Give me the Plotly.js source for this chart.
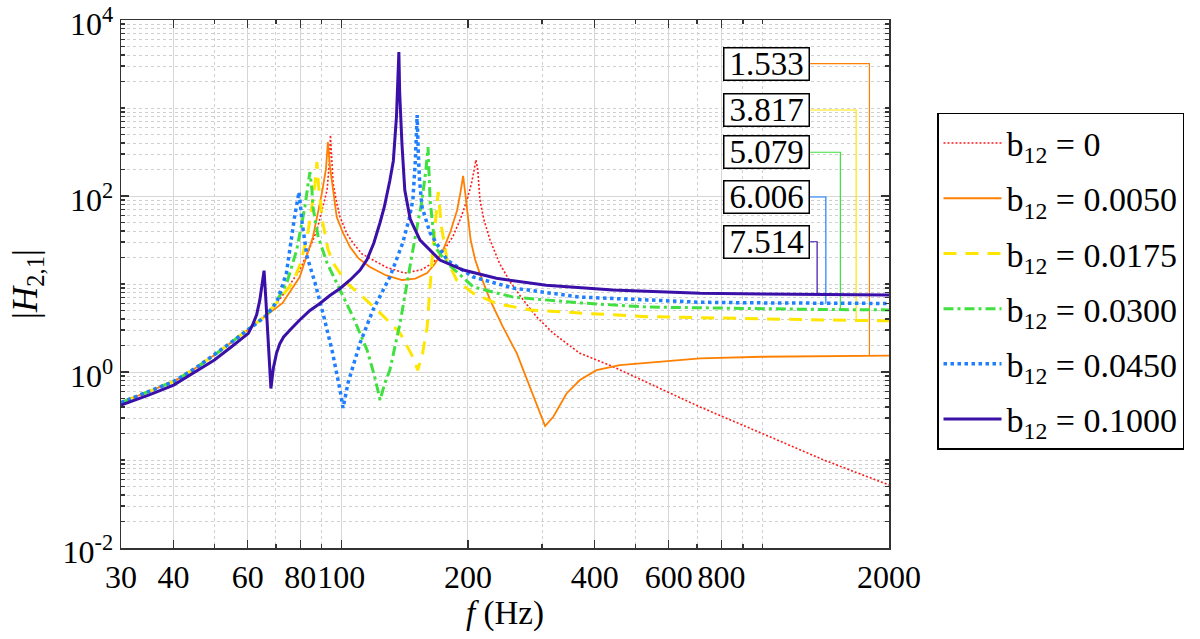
<!DOCTYPE html>
<html>
<head>
<meta charset="utf-8">
<script src="https://cdn.plot.ly/plotly-3.0.1.min.js"></script>
<style>
  html, body { margin: 0; padding: 0; background: #fff; }
  #plot { width: 1200px; height: 639px; }
</style>
</head>
<body>
<div id="plot"></div>
<script>
// values (frequency in Hz, |H21|)
var freqB0 = [30, 35, 40, 45, 50, 55, 60, 66, 72, 79.7, 84, 87.6, 90.5, 92.6, 93.8, 94.3, 95, 95.7, 97.5, 99.4, 103, 106.7, 112, 119, 128, 141.5, 155, 165, 175, 184, 192, 199, 204, 207, 209, 211, 213.6, 218, 225.7, 237.7, 251.8, 270.6, 291, 319, 369, 442, 533, 712, 1000, 1400, 2000];
var magB0 = [0.45, 0.6, 0.78, 1.1, 1.56, 2.2, 3.0, 4.4, 7.0, 14.4, 25, 41, 75, 117, 250, 493, 260, 140, 85, 57.7, 38, 29.2, 22, 18.7, 15.5, 13.3, 14.5, 17.3, 24, 34.2, 55, 90, 140, 200, 257, 200, 90, 55, 31.6, 17.2, 10.6, 6.6, 4.25, 2.75, 1.63, 1.15, 0.76, 0.4, 0.2, 0.1, 0.052];

var freqB0050 = [30, 35, 40, 45, 50, 55, 60, 66, 72.6, 79.7, 85.7, 90, 92, 93, 94, 95.1, 97.6, 101, 105, 110, 117, 128, 139.5, 150, 160, 167, 174.6, 182, 188.5, 192, 194.8, 197, 199, 203, 208, 213.4, 225.7, 242, 261.3, 281, 296.9, 305, 319, 343, 369, 404, 459, 582, 712, 1000, 1400, 2000];
var magB0050 = [0.45, 0.6, 0.78, 1.1, 1.56, 2.2, 3.0, 4.3, 6.1, 12, 34.2, 108, 200, 411, 220, 140, 57.7, 38, 26.3, 19.5, 15.6, 12.5, 11.1, 11.5, 13.3, 17, 24.3, 40, 69, 110, 169, 110, 69, 31.6, 19, 13.2, 6.6, 3.27, 1.63, 0.68, 0.34, 0.243, 0.31, 0.57, 0.81, 1.05, 1.2, 1.31, 1.43, 1.49, 1.52, 1.533];

var freqB0175 = [30, 35, 40, 45, 50, 55, 60, 66, 71, 76.7, 80, 83, 85, 86.7, 87.6, 88.5, 90.5, 93, 95.7, 103, 112.7, 123.7, 138, 148, 152, 156, 160, 165, 168, 170, 173, 178.5, 188, 206, 233.6, 281, 369, 533, 712, 1000, 1400, 2000];
var magB0175 = [0.45, 0.6, 0.78, 1.1, 1.56, 2.2, 3.0, 4.3, 6.5, 10.3, 17, 34.2, 70, 140, 243, 120, 49, 25, 17.3, 10.3, 7.1, 4.7, 2.77, 1.48, 1.05, 1.6, 3.25, 24.3, 60, 111, 44.8, 18.7, 11.1, 7.8, 6.0, 5.07, 4.68, 4.25, 4.15, 4.0, 3.9, 3.817];

var freqB0300 = [30, 35, 40, 45, 50, 55, 60, 66, 70, 74.3, 78.4, 82, 83.5, 84.3, 85.2, 85.7, 88.2, 92.6, 99.4, 106.7, 115.2, 120, 123.7, 127, 130.5, 138, 148, 155.6, 159, 160.8, 162.6, 167, 178.5, 206, 256, 369, 533, 712, 1000, 1400, 2000];
var magB0300 = [0.45, 0.6, 0.78, 1.1, 1.56, 2.2, 3.0, 4.3, 6.2, 10.3, 24.3, 75, 140, 187, 120, 75, 34.2, 17.3, 8.55, 4.22, 1.78, 0.9, 0.48, 0.75, 1.05, 3.6, 24.3, 90, 200, 360, 90, 26.3, 17.3, 9.25, 7.1, 6.1, 5.47, 5.34, 5.2, 5.13, 5.079];

var freqB0450 = [30, 35, 40, 45, 50, 55, 60, 66.6, 70.4, 74.1, 77.5, 78.7, 79.4, 80, 80.8, 83, 86.7, 90.5, 95.1, 99.4, 101, 102.5, 103.8, 110.9, 119, 130.5, 140, 145, 148, 150, 151.5, 152.5, 153.5, 155.6, 162.6, 178.5, 206, 256, 369, 533, 712, 1000, 1400, 2000];
var magB0450 = [0.45, 0.6, 0.78, 1.1, 1.56, 2.2, 3.0, 4.4, 6.3, 13.2, 57.7, 85, 111, 80, 49, 20.3, 10.3, 4.68, 1.78, 0.62, 0.39, 0.55, 0.75, 2.14, 5.07, 12, 29.2, 55, 90, 250, 833, 300, 150, 75, 38, 18.7, 12, 9, 7.1, 6.6, 6.2, 6.1, 6.05, 6.006];

var freqB1000 = [30, 35, 40, 45, 50, 55, 60.2, 61.6, 63, 64.1, 65, 65.6, 66.2, 66.8, 67.5, 68.1, 69, 70.2, 71.5, 73, 75.6, 79.7, 84.3, 89, 94, 99.4, 105, 110.9, 115.2, 119.5, 123.7, 126.6, 130.5, 133, 135.3, 136.5, 137.1, 137.7, 139.4, 141.6, 145.8, 148, 153.9, 171.6, 195, 233.6, 307, 442, 712, 1000, 1400, 2000];
var magB1000 = [0.42, 0.55, 0.71, 1.0, 1.37, 1.95, 2.75, 3.42, 4.5, 6.6, 10, 14.2, 7, 3.2, 1.4, 0.65, 1.1, 1.63, 2.1, 2.5, 3.0, 3.9, 5.0, 6.0, 7.4, 8.9, 11.1, 14.4, 19, 29, 50, 75, 150, 250, 795, 2000, 4330, 1500, 398, 117, 55, 47, 31.6, 18.7, 14.4, 11.6, 9.7, 8.55, 7.87, 7.7, 7.6, 7.514];

var legendNames = ['b<sub>12</sub> = 0', 'b<sub>12</sub> = 0.0050', 'b<sub>12</sub> = 0.0175',
                   'b<sub>12</sub> = 0.0300', 'b<sub>12</sub> = 0.0450', 'b<sub>12</sub> = 0.1000'];
var finalLabels = ['1.533', '3.817', '5.079', '6.006', '7.514'];

var xTickVals = [30, 40, 60, 80, 100, 200, 400, 600, 800, 2000];
var xTickText = ['30', '40', '60', '80', '100', '200', '400', '600', '800', '2000'];
var xMinorVals = [50, 70, 90, 300, 500, 700, 900, 1000];
var yTickVals = [0.01, 1, 100, 10000];
var yTickText = ['10<sup>-2</sup>', '10<sup>0</sup>', '10<sup>2</sup>', '10<sup>4</sup>'];

var colors = ['#ff1a1a', '#ff8000', '#ffe600', '#3fe03f', '#1f7fff', '#3a10a8'];
var widths = [1.6, 1.8, 3, 3, 3.5, 3];
var dashes = ['2px,2px', 'solid', '13px,9px', '10px,4px,3px,4px', 'dot', 'solid'];

var freqs = [freqB0, freqB0050, freqB0175, freqB0300, freqB0450, freqB1000];
var mags = [magB0, magB0050, magB0175, magB0300, magB0450, magB1000];

var yMinorVals = [];
for (var e = -2; e < 4; e++) {
  for (var m = 2; m <= 9; m++) yMinorVals.push(m * Math.pow(10, e));
  if (e !== -2 && e % 2 !== 0) yMinorVals.push(Math.pow(10, e));
}

var font = 'Liberation Serif, Times New Roman, serif';

// leader lines from the value boxes down to the end of each curve
var boxRight = 1299;
var leaderX = [1797, 1671, 1533, 1416, 1350];
var labelY = [3187, 949, 314, 97.4, 30.2];

var traces = [];
for (var i = 0; i < 5; i++) {
  var s = i + 1;
  var last = mags[s][mags[s].length - 1];
  traces.push({
    x: [boxRight, leaderX[i], leaderX[i]],
    y: [labelY[i], labelY[i], last],
    type: 'scatter',
    mode: 'lines',
    line: {color: colors[s], width: 1.2},
    showlegend: false,
    hoverinfo: 'skip'
  });
}
for (var k = 0; k < freqs.length; k++) {
  traces.push({
    x: freqs[k],
    y: mags[k],
    type: 'scatter',
    mode: 'lines',
    name: legendNames[k],
    legendgroup: 'g' + k,
    line: {color: colors[k], width: widths[k], dash: dashes[k]}
  });
}

var annotations = finalLabels.map(function(t, i) {
  return {
    text: t,
    x: Math.log10(boxRight),
    y: Math.log10(labelY[i]),
    xref: 'x', yref: 'y',
    xanchor: 'right', yanchor: 'middle',
    showarrow: false,
    width: 84, height: 31,
    bgcolor: '#fff',
    bordercolor: '#000',
    borderwidth: 1.5,
    borderpad: 0,
    font: {family: font, size: 33, color: '#000'}
  };
});

var axisCommon = {
  type: 'log',
  showline: true,
  linecolor: '#333',
  linewidth: 1.5,
  mirror: 'allticks',
  ticks: 'inside',
  tickcolor: '#333',
  tickwidth: 1.2,
  ticklen: 8,
  tickangle: 0,
  ticklabeloverflow: 'allow',
  showgrid: true,
  gridcolor: '#d6d6d6',
  gridwidth: 1,
  zeroline: false,
  tickfont: {family: font, size: 32, color: '#000'}
};

var layout = {
  width: 1200,
  height: 639,
  margin: {l: 121, r: 311, t: 20, b: 91},
  paper_bgcolor: '#fff',
  plot_bgcolor: '#fff',
  showlegend: true,
  xaxis: Object.assign({}, axisCommon, {
    range: [Math.log10(30), Math.log10(2000)],
    tickmode: 'array',
    tickvals: xTickVals,
    ticktext: xTickText,
    minor: {tickmode: 'array', tickvals: xMinorVals, ticks: 'inside', ticklen: 4,
            tickcolor: '#333', showgrid: true, gridcolor: '#cfcfcf', griddash: 'dot', gridwidth: 1},
    title: {text: '<i>f</i> (Hz)', font: {family: font, size: 33, color: '#000'}, standoff: 0}
  }),
  yaxis: Object.assign({}, axisCommon, {
    range: [-2, 4],
    tickmode: 'array',
    tickvals: yTickVals,
    ticktext: yTickText,
    ticklabelshift: 4,
    minor: {tickmode: 'array', tickvals: yMinorVals, ticks: 'inside', ticklen: 4,
            tickcolor: '#333', showgrid: true, gridcolor: '#cfcfcf', griddash: 'dot', gridwidth: 1},
    title: {text: '|<i>H</i><sub>2,1</sub>|', font: {family: font, size: 35, color: '#000'}, standoff: 14}
  }),
  legend: {
    x: 1.0625, y: 0.824,
    xanchor: 'left', yanchor: 'top',
    bgcolor: '#fff',
    bordercolor: '#000',
    borderwidth: 1.5,
    itemwidth: 58,
    traceorder: 'grouped',
    tracegroupgap: 8,
    font: {family: font, size: 34, color: '#000'}
  },
  annotations: annotations
};

Plotly.newPlot('plot', traces, layout, {displayModeBar: false, staticPlot: true});
</script>
</body>
</html>
